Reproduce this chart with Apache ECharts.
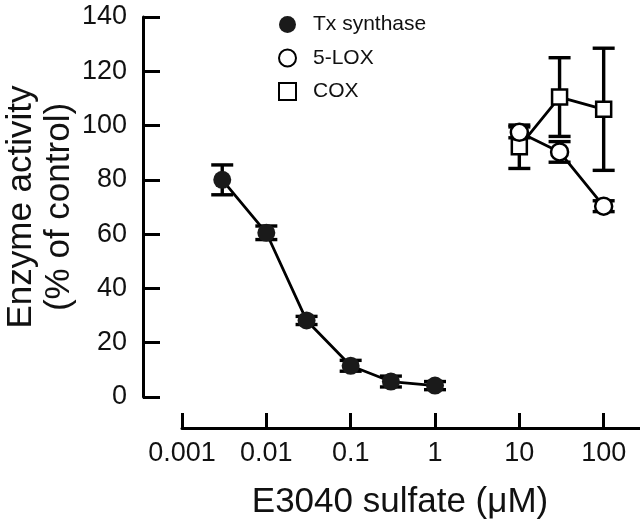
<!DOCTYPE html>
<html>
<head>
<meta charset="utf-8">
<script src="https://cdn.jsdelivr.net/npm/echarts@6/dist/echarts.min.js"></script>
<style>
html, body { margin: 0; padding: 0; background: #fff; }
#chart { width: 640px; height: 522px; }
</style>
</head>
<body>
<div id="chart"></div>
<script>
// E3040 sulfate dose (uM) and enzyme activity (% of control), mean +/- error
var txDose = [0.003, 0.01, 0.03, 0.1, 0.3, 1];
var txMean = [80, 60.5, 28.2, 11.5, 5.7, 4.2];
var txErr = [5.5, 2.5, 1.5, 2, 2, 1.5];

var otherDose = [10, 30, 100];
var loxMean = [97.5, 90.3, 70.3];
var loxErr = [2, 3.8, 2];
var coxMean = [92.2, 110.5, 106];
var coxErr = [8, 14.5, 22.5];

var seriesNames = ['Tx synthase', '5-LOX', 'COX'];

var font = "'Liberation Sans', Arial, sans-serif";

function pairs(x, y) {
    return x.map(function(v, i) { return [v, y[i]]; });
}
function bars(x, m, e) {
    return x.map(function(v, i) { return [v, m[i] - e[i], m[i] + e[i]]; });
}

function errorBar(params, api) {
    var lo = api.coord([api.value(0), api.value(1)]);
    var hi = api.coord([api.value(0), api.value(2)]);
    var w = 11;
    var st = { stroke: '#000', lineWidth: 3.4 };
    return {
        type: 'group',
        children: [
            { type: 'line', shape: { x1: lo[0], y1: lo[1], x2: hi[0], y2: hi[1] }, style: st },
            { type: 'line', shape: { x1: lo[0] - w, y1: lo[1], x2: lo[0] + w, y2: lo[1] }, style: st },
            { type: 'line', shape: { x1: hi[0] - w, y1: hi[1], x2: hi[0] + w, y2: hi[1] }, style: st }
        ]
    };
}

var myChart = echarts.init(document.getElementById('chart'));
var lineStyle = { color: '#000', width: 2.8 };

var option = {
    animation: false,
    textStyle: { fontFamily: font },
    grid: { left: 182, top: 17, bottom: 125, right: -48, containLabel: false, outerBoundsMode: 'none' },
    legend: {
        orient: 'vertical',
        left: 278,
        top: 14,
        padding: 0,
        itemWidth: 17,
        itemHeight: 17,
        itemGap: 12.5,
        textStyle: { fontFamily: font, fontSize: 21, color: '#111', padding: [0, 0, 0, 12] },
        data: [
            { name: seriesNames[0], icon: 'circle', itemStyle: { color: '#1a1a1a', borderWidth: 0 } },
            { name: seriesNames[1], icon: 'circle', itemStyle: { color: '#fff', borderColor: '#000', borderWidth: 2 } },
            { name: seriesNames[2], icon: 'rect', itemStyle: { color: '#fff', borderColor: '#000', borderWidth: 2 } }
        ]
    },
    xAxis: {
        type: 'log',
        logBase: 10,
        min: 0.001,
        max: 1000,
        splitNumber: 6,
        offset: 31,
        name: 'E3040 sulfate (\u03bcM)',
        nameLocation: 'middle',
        nameGap: 57,
        nameMoveOverlap: false,
        nameTextStyle: { fontFamily: font, fontSize: 35, color: '#111', padding: [0, 70, 0, 0] },
        axisLine: { onZero: false, lineStyle: { color: '#000', width: 3 } },
        axisTick: { inside: true, length: 15, lineStyle: { color: '#000', width: 3 } },
        axisLabel: { fontFamily: font, fontSize: 27, color: '#111', margin: 12 },
        minorTick: { show: false },
        splitLine: { show: false }
    },
    yAxis: {
        type: 'value',
        min: 0,
        max: 140,
        interval: 20,
        offset: 39,
        name: 'Enzyme activity\n(% of control)',
        nameLocation: 'middle',
        nameRotate: 90,
        nameGap: 65,
        nameMoveOverlap: false,
        nameTextStyle: { fontFamily: font, fontSize: 35, color: '#111', lineHeight: 38 },
        axisLine: { show: true, onZero: false, lineStyle: { color: '#000', width: 3 } },
        axisTick: { show: true, inside: true, length: 17, lineStyle: { color: '#000', width: 3 } },
        axisLabel: { fontFamily: font, fontSize: 27, color: '#111', margin: 16 },
        splitLine: { show: false }
    },
    series: [
        {
            type: 'custom', name: 'txErr', renderItem: errorBar, z: 2,
            encode: { x: 0, y: [1, 2] }, data: bars(txDose, txMean, txErr)
        },
        {
            type: 'custom', name: 'coxErr', renderItem: errorBar, z: 2,
            encode: { x: 0, y: [1, 2] }, data: bars(otherDose, coxMean, coxErr)
        },
        {
            type: 'custom', name: 'loxErr', renderItem: errorBar, z: 2,
            encode: { x: 0, y: [1, 2] }, data: bars(otherDose, loxMean, loxErr)
        },
        {
            type: 'line', name: seriesNames[0], z: 3,
            data: pairs(txDose, txMean),
            symbol: 'circle', symbolSize: 18,
            lineStyle: lineStyle,
            itemStyle: { color: '#1a1a1a', borderWidth: 0 }
        },
        {
            type: 'line', name: seriesNames[2], z: 3,
            data: pairs(otherDose, coxMean),
            symbol: 'rect', symbolSize: 15,
            lineStyle: lineStyle,
            itemStyle: { color: '#fff', borderColor: '#000', borderWidth: 2.5 }
        },
        {
            type: 'line', name: seriesNames[1], z: 4,
            data: pairs(otherDose, loxMean),
            symbol: 'circle', symbolSize: 17,
            lineStyle: lineStyle,
            itemStyle: { color: '#fff', borderColor: '#000', borderWidth: 2.5 }
        }
    ]
};
myChart.setOption(option);
</script>
</body>
</html>
